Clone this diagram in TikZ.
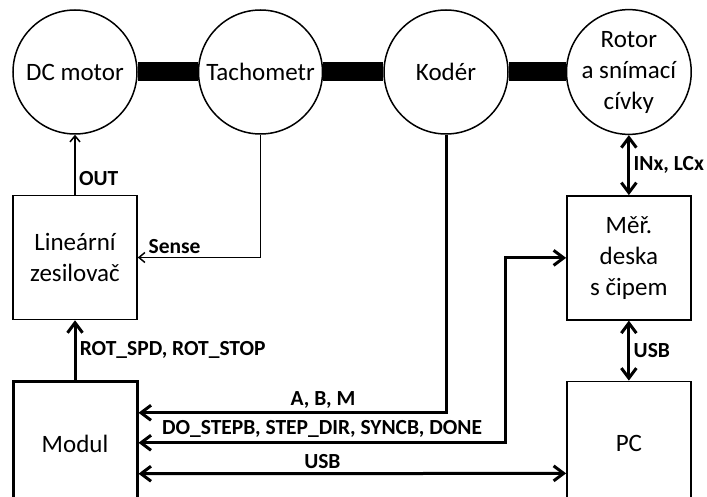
\documentclass[tikz,border=0pt]{standalone}
\usepackage{fontspec}
\setmainfont{Carlito}
\usetikzlibrary{arrows.meta, positioning}

\begin{document}
\begin{tikzpicture}[->,>={Straight Barb[length=6pt,width=10pt]},node distance=60pt,
                line width=1.5pt,
                part/.style={circle,draw,minimum size=124pt,inner sep=0pt,align=center,font=\fontsize{25}{31}\selectfont},
                block/.style={rectangle,draw,minimum size=124pt,inner sep=0pt,align=center,font=\fontsize{25}{31}\selectfont},
                shaft/.style={-,line width=19pt},
                bus/.style={line width=3pt,>={Straight Barb[length=10pt,width=15pt]}},
                lbl/.style={font=\fontsize{21.5}{25}\selectfont\bfseries}]

  \useasboundingbox (0,0) rectangle (707pt,-497pt);
  \clip (0,0) rectangle (707pt,-497pt);

  \node[part] (dc) at (75pt,-72pt) {DC motor};
  \node[part] (tach) [right=of dc] {Tachometr};
  \node[part] (kod) [right=of tach] {Kodér};
  \node[part] (rotor) [right=57pt of kod] {Rotor\\a snímací\\cívky};
  \node[block] (amp) [below=of dc] {Lineární\\zesilovač};
  \node[block, line width=3pt] (modul) [below=of amp] {Modul};
  \node[block] (mer) [below=of rotor] {Měř.\\deska\\s čipem};
  \node[block] (pc) [below=of mer] {PC};

  % hridel
  \draw[shaft] (dc) -- (tach) (tach) -- (kod) (kod) -- (rotor);

  \draw (amp) -- node[lbl, pos=0.27, right] {OUT} (dc);
  \draw (tach) |- node[lbl, pos=0.85, above] {Sense} (amp);
  \draw[bus] (modul) -- node[lbl, right] {ROT\_SPD, ROT\_STOP} (amp);
  \draw[bus] (kod) |- node[lbl, pos=0.7, above] {A, B, M} ([yshift=31pt]modul.east);
  \draw[bus, <->] ([yshift=1pt]modul.east) -- node[lbl, above] {DO\_STEPB, STEP\_DIR, SYNCB, DONE} ++(367pt,0) |- (mer);
  \draw[bus, <->] ([yshift=-30pt]modul.east) -- node[lbl, pos=0.43, above] {USB} ([yshift=-30pt]pc.west);
  \draw[bus, <->] (rotor) -- node[lbl, right] {INx, LCx} (mer);
  \draw[bus, <->] (mer) -- node[lbl, right] {USB} (pc);
\end{tikzpicture}
\end{document}
